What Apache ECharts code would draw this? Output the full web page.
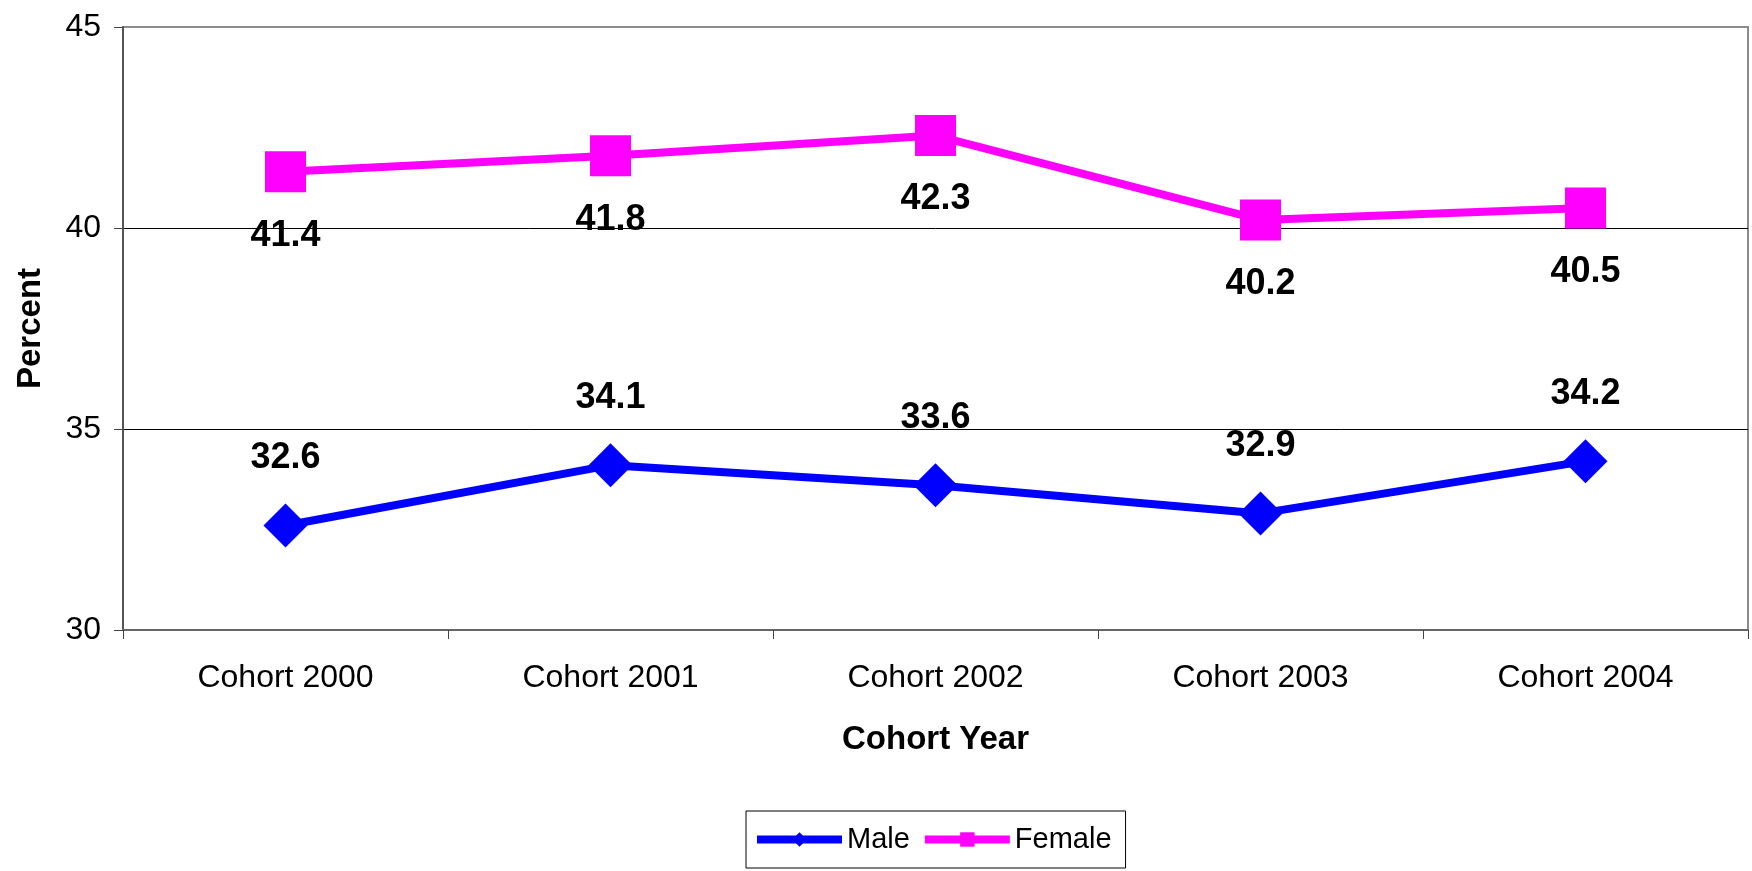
<!DOCTYPE html>
<html>
<head>
<meta charset="utf-8">
<script src="https://cdn.jsdelivr.net/npm/echarts@6/dist/echarts.min.js"></script>
<style>
html,body{margin:0;padding:0;background:#fff;}
#chart{width:1752px;height:871px;}
</style>
</head>
<body>
<div id="chart"></div>
<script>
const categories = ['Cohort 2000', 'Cohort 2001', 'Cohort 2002', 'Cohort 2003', 'Cohort 2004'];
const maleValues = [32.6, 34.1, 33.6, 32.9, 34.2];
const femaleValues = [41.4, 41.8, 42.3, 40.2, 40.5];
const yTicks = [30, 35, 40, 45];

const FONT = "'Liberation Sans', Arial, sans-serif";
const chart = echarts.init(document.getElementById('chart'), null, {renderer: 'canvas'});

chart.setOption({
  animation: false,
  backgroundColor: '#fff',
  textStyle: {fontFamily: FONT, color: '#000'},
  grid: {
    left: 123, top: 27, right: 4, bottom: 241,
    show: true, borderColor: '#8c8c8c', borderWidth: 2, backgroundColor: '#fff'
  },
  legend: {
    left: 746, top: 811,
    orient: 'horizontal',
    borderColor: '#000', borderWidth: 1,
    padding: [14, 14, 14, 7],
    itemWidth: 85, itemHeight: 18, itemGap: 11,
    lineStyle: {width: 8},
    textStyle: {fontFamily: FONT, fontSize: 29, color: '#000'},
    data: ['Male', 'Female']
  },
  xAxis: {
    type: 'category',
    data: categories,
    boundaryGap: true,
    name: 'Cohort Year',
    nameLocation: 'middle',
    nameGap: 93,
    nameTextStyle: {fontFamily: FONT, fontSize: 33, fontWeight: 'bold', color: '#000'},
    axisLine: {show: true, lineStyle: {color: '#666', width: 2}},
    axisTick: {show: true, length: 9, inside: false, lineStyle: {color: '#444', width: 1}},
    axisLabel: {fontFamily: FONT, fontSize: 32, color: '#000', margin: 32},
    splitLine: {show: false}
  },
  yAxis: {
    type: 'value',
    min: yTicks[0], max: yTicks[yTicks.length - 1], interval: 5,
    name: 'Percent',
    nameLocation: 'middle',
    nameGap: 76,
    nameRotate: 90,
    nameTextStyle: {fontFamily: FONT, fontSize: 33, fontWeight: 'bold', color: '#000'},
    axisLine: {show: true, lineStyle: {color: '#555', width: 2}},
    axisTick: {show: true, length: 9, inside: false, lineStyle: {color: '#444', width: 1}},
    axisLabel: {fontFamily: FONT, fontSize: 32, color: '#000', margin: 22},
    splitLine: {show: true, lineStyle: {color: ['#666', '#000', '#000', '#8c8c8c'], width: 1}}
  },
  series: [
    {
      name: 'Male',
      type: 'line',
      data: maleValues,
      symbol: 'diamond',
      symbolSize: 44,
      lineStyle: {color: '#0000ff', width: 8},
      itemStyle: {color: '#0000ff'},
      label: {
        show: true, position: 'inside', offset: [0, -67],
        fontFamily: FONT, fontSize: 36, fontWeight: 'bold', color: '#000',
        formatter: p => p.value.toFixed(1)
      },
      z: 3
    },
    {
      name: 'Female',
      type: 'line',
      data: femaleValues,
      symbol: 'rect',
      symbolSize: 41,
      lineStyle: {color: '#ff00ff', width: 8},
      itemStyle: {color: '#ff00ff'},
      label: {
        show: true, position: 'inside', offset: [0, 64],
        fontFamily: FONT, fontSize: 36, fontWeight: 'bold', color: '#000',
        formatter: p => p.value.toFixed(1)
      },
      z: 3
    }
  ]
});
</script>
</body>
</html>
